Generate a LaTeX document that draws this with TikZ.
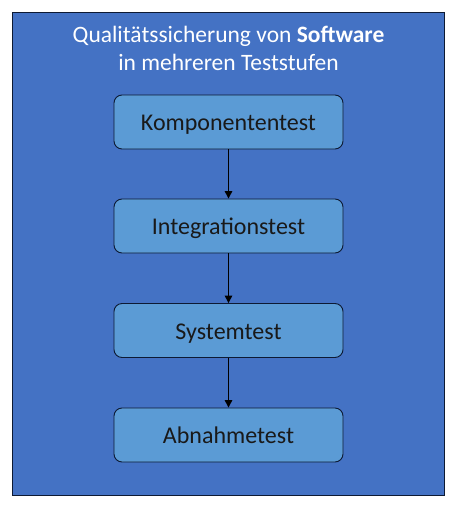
\documentclass[tikz,border=0pt]{standalone}
\usepackage{fontspec}
\setmainfont{Carlito}
\usetikzlibrary{arrows.meta}
\definecolor{outerblue}{HTML}{4472C4}
\definecolor{boxblue}{HTML}{5B9BD5}
\definecolor{edgenavy}{HTML}{0D1A33}
\tikzset{
  stepbox/.style={draw=edgenavy, line width=0.9pt, fill=boxblue, rounded corners=8pt,
    minimum width=229pt, minimum height=54pt, inner sep=0pt, text height=17pt, text depth=0pt,
    font=\fontsize{24}{28}\selectfont, text=black!90},
  titletext/.style={text=white, anchor=base, inner sep=0pt, font=\fontsize{23.5}{28}\selectfont},
  flow/.style={draw=black, line width=1.3pt, -{Triangle[length=7.5pt,width=7.5pt]}}
}
\begin{document}
\begin{tikzpicture}[x=1pt,y=-1pt]
\useasboundingbox (0,0) rectangle (457,509);
\node[draw=edgenavy, line width=0.8pt, fill=outerblue, minimum width=432pt, minimum height=483pt, inner sep=0pt] (frame) at (228.5,253.5) {};
\node[titletext] (title1) at (228.5,42) {Qualitätssicherung von \textbf{Software}};
\node[titletext] (title2) at (228.5,70) {in mehreren Teststufen};
\node[stepbox] (k) at (228.5,122) {Komponententest};
\node[stepbox] (i) at (228.5,226) {Integrationstest};
\node[stepbox] (s) at (228.5,330.5) {Systemtest};
\node[stepbox] (a) at (228.5,435) {Abnahmetest};
\draw[flow] (k) -- (i);
\draw[flow] (i) -- (s);
\draw[flow] (s) -- (a);
\end{tikzpicture}
\end{document}
